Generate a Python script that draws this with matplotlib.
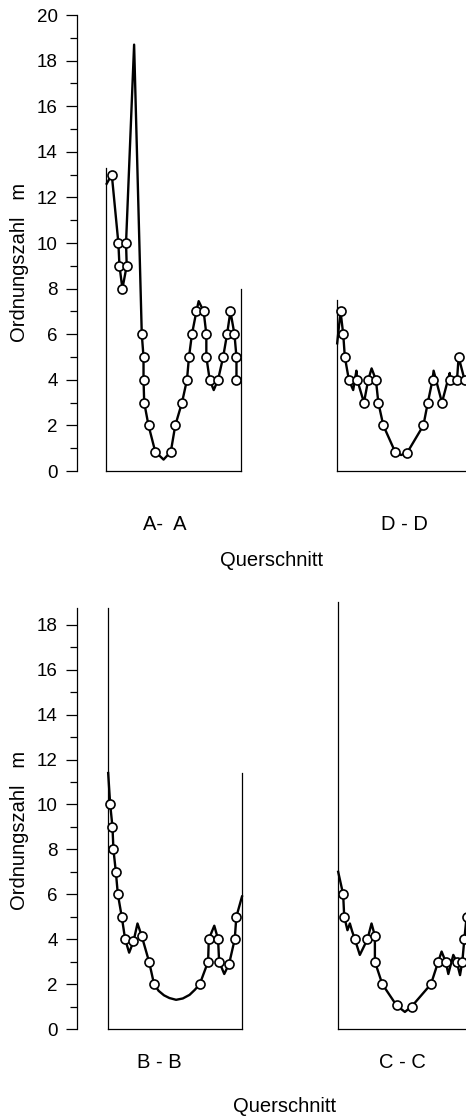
import matplotlib
matplotlib.use("Agg")
import matplotlib.pyplot as plt
import numpy as np

plt.rcParams["font.family"] = ["Liberation Sans", "DejaVu Sans"]

W, H = 466, 1120

# cross sections: position across section (% of width), Ordnungszahl m,
# 1 = measured point (circle), 0 = line vertex only
aa_pos = [0.5, 4.3, 9.2, 10.0, 12.2, 15.4, 14.9, 20.9, 26.6, 27.9, 27.9, 28.4,
          31.6, 36.6, 42.8, 48.2, 51.5, 56.5, 60.2, 61.7, 63.9, 67.2, 68.9,
          72.6, 74.6, 74.6, 77.1, 80.1, 83.3, 87.1, 90.0, 92.5, 95.5, 97.0, 97.0]
aa_m = [12.6, 13, 10, 9, 8, 9, 10, 18.7, 6, 5, 4, 3,
        2, 0.85, 0.5, 0.85, 2, 3, 4, 5, 6, 7, 7.45,
        7, 6, 5, 4, 3.55, 4, 5, 6, 7, 6, 5, 4]
aa_pt = [0, 1, 1, 1, 1, 1, 1, 0, 1, 1, 1, 1,
         1, 1, 0, 1, 1, 1, 1, 1, 1, 1, 0,
         1, 1, 1, 1, 0, 1, 1, 1, 1, 1, 1, 1]
aa_walls = (13.3, 8.0)

dd_pos = [0.5, 3.0, 5.0, 6.2, 9.2, 12.4, 14.8, 15.4, 20.4, 23.6, 26.1, 29.3,
          31.1, 34.8, 43.5, 48.0, 52.5, 64.6, 67.9, 71.4, 72.2, 78.4, 84.2,
          84.6, 89.6, 90.8, 95.2]
dd_m = [5.6, 7, 6, 5, 4, 3.55, 4.4, 4, 3, 4, 4.5, 4,
        3, 2, 0.85, 0.7, 0.8, 2, 3, 4, 4.4, 3, 4.3,
        4, 4, 5, 4]
dd_pt = [0, 1, 1, 1, 1, 0, 0, 1, 1, 1, 0, 1,
         1, 1, 1, 0, 1, 1, 1, 1, 0, 1, 0,
         1, 1, 1, 1]
dd_walls = (7.5, 6.0)

bb_pos = [0.5, 2.0, 3.7, 4.4, 6.2, 7.7, 10.6, 13.1, 16.1, 19.3, 22.3, 25.4,
          30.9, 34.6, 38, 42, 46, 51, 56, 61, 65, 68.6, 74.8, 75.3, 79.4,
          82.2, 83.0, 86.8, 90.4, 94.6, 95.8, 100]
bb_m = [11.4, 10, 9, 8, 7, 6, 5, 4, 3.4, 3.9, 4.7, 4.15,
        3, 2, 1.7, 1.5, 1.38, 1.3, 1.36, 1.52, 1.75, 2, 3, 4, 4.6,
        4, 3, 2.45, 2.9, 4, 5, 5.9]
bb_pt = [0, 1, 1, 1, 1, 1, 1, 1, 0, 1, 0, 1,
         1, 1, 0, 0, 0, 0, 0, 0, 0, 1, 1, 1, 0,
         1, 1, 0, 1, 1, 1, 0]
bb_walls = (18.75, 11.4)

cc_pos = [0.5, 4.2, 5.0, 7.4, 9.2, 10.9, 12.9, 16.6, 22.3, 25.3, 27.8, 27.8,
          33.3, 43.9, 50.1, 55.1, 69.5, 74.9, 77.4, 80.4, 82.4, 86.1, 88.6,
          91.1, 92.8, 94.3, 96.0]
cc_m = [7.0, 6, 5, 4.4, 4.7, 4.35, 4, 3.3, 4, 4.7, 4.15, 3,
        2, 1.05, 0.76, 1.0, 2, 3, 3.45, 3, 2.45, 3.3, 3,
        2.4, 3, 4, 5]
cc_pt = [0, 1, 1, 0, 0, 0, 1, 0, 1, 0, 1, 1,
         1, 1, 0, 1, 1, 1, 0, 1, 0, 0, 1,
         0, 1, 1, 1]
cc_walls = (19.0, 7.0)

fig = plt.figure(figsize=(W / 100, H / 100), dpi=100)


def frac(x0, x1, ytop, ybot):
    return [x0 / W, (H - ybot) / H, (x1 - x0) / W, (ybot - ytop) / H]


def y_axis(ytop, ybot, ymax, top_major):
    ax = fig.add_axes(frac(77, 466, ytop, ybot))
    ax.set_ylim(0, ymax)
    ax.set_xlim(0, 1)
    for s in ("top", "right", "bottom"):
        ax.spines[s].set_visible(False)
    ax.spines["left"].set_linewidth(0.9)
    ax.spines["left"].set_bounds(0, ymax)
    ax.set_xticks([])
    ax.set_yticks(np.arange(0, top_major + 1, 2))
    ax.set_yticks(np.arange(1, top_major, 2), minor=True)
    ax.tick_params(axis="y", which="major", length=8, width=0.9,
                   labelsize=13.5, pad=6)
    ax.tick_params(axis="y", which="minor", length=5, width=0.9)
    ax.patch.set_alpha(0)
    return ax


def section(x0, ytop, ybot, ymax, pos, m, pt, walls):
    ax = fig.add_axes(frac(x0, x0 + 134.5, ytop, ybot))
    ax.set_xlim(0, 100)
    ax.set_ylim(0, ymax)
    ax.axis("off")
    kw = dict(color="k", lw=0.9, clip_on=False)
    ax.plot([0, 0], [0, walls[0]], **kw)
    ax.plot([100, 100], [0, walls[1]], **kw)
    ax.plot([0, 100], [0, 0], **kw)
    ax.plot(pos, m, color="k", lw=1.7, clip_on=False, zorder=2)
    px = [p for p, f in zip(pos, pt) if f]
    py = [v for v, f in zip(m, pt) if f]
    ax.plot(px, py, "o", ms=6.5, mfc="white", mec="k", mew=1.2,
            clip_on=False, zorder=3)
    return ax


# upper row: A-A, D-D
y_axis(15, 471, 20, 20)
section(106, 15, 471, 20, aa_pos, aa_m, aa_pt, aa_walls)
section(336.5, 15, 471, 20, dd_pos, dd_m, dd_pt, dd_walls)

# lower row: B-B, C-C
y_axis(608, 1029, 18.75, 18)
section(107.5, 608, 1029, 18.75, bb_pos, bb_m, bb_pt, bb_walls)
section(337.5, 608, 1029, 18.75, cc_pos, cc_m, cc_pt, cc_walls)

fs = 14.5
fig.text(20 / W, 1 - 262 / H, "Ordnungszahl   m", rotation=90,
         ha="center", va="center", fontsize=fs)
fig.text(20 / W, 1 - 830 / H, "Ordnungszahl   m", rotation=90,
         ha="center", va="center", fontsize=fs)
fig.text(165 / W, 1 - 525 / H, "A-  A", ha="center", va="center", fontsize=fs)
fig.text(404 / W, 1 - 525 / H, "D - D", ha="center", va="center", fontsize=fs)
fig.text(272 / W, 1 - 561 / H, "Querschnitt", ha="center", va="center",
         fontsize=fs)
fig.text(159 / W, 1 - 1062 / H, "B - B", ha="center", va="center", fontsize=fs)
fig.text(402 / W, 1 - 1062 / H, "C - C", ha="center", va="center", fontsize=fs)
fig.text(285 / W, 1 - 1106 / H, "Querschnitt", ha="center", va="center",
         fontsize=fs)

fig.savefig("out.png", dpi=100)
